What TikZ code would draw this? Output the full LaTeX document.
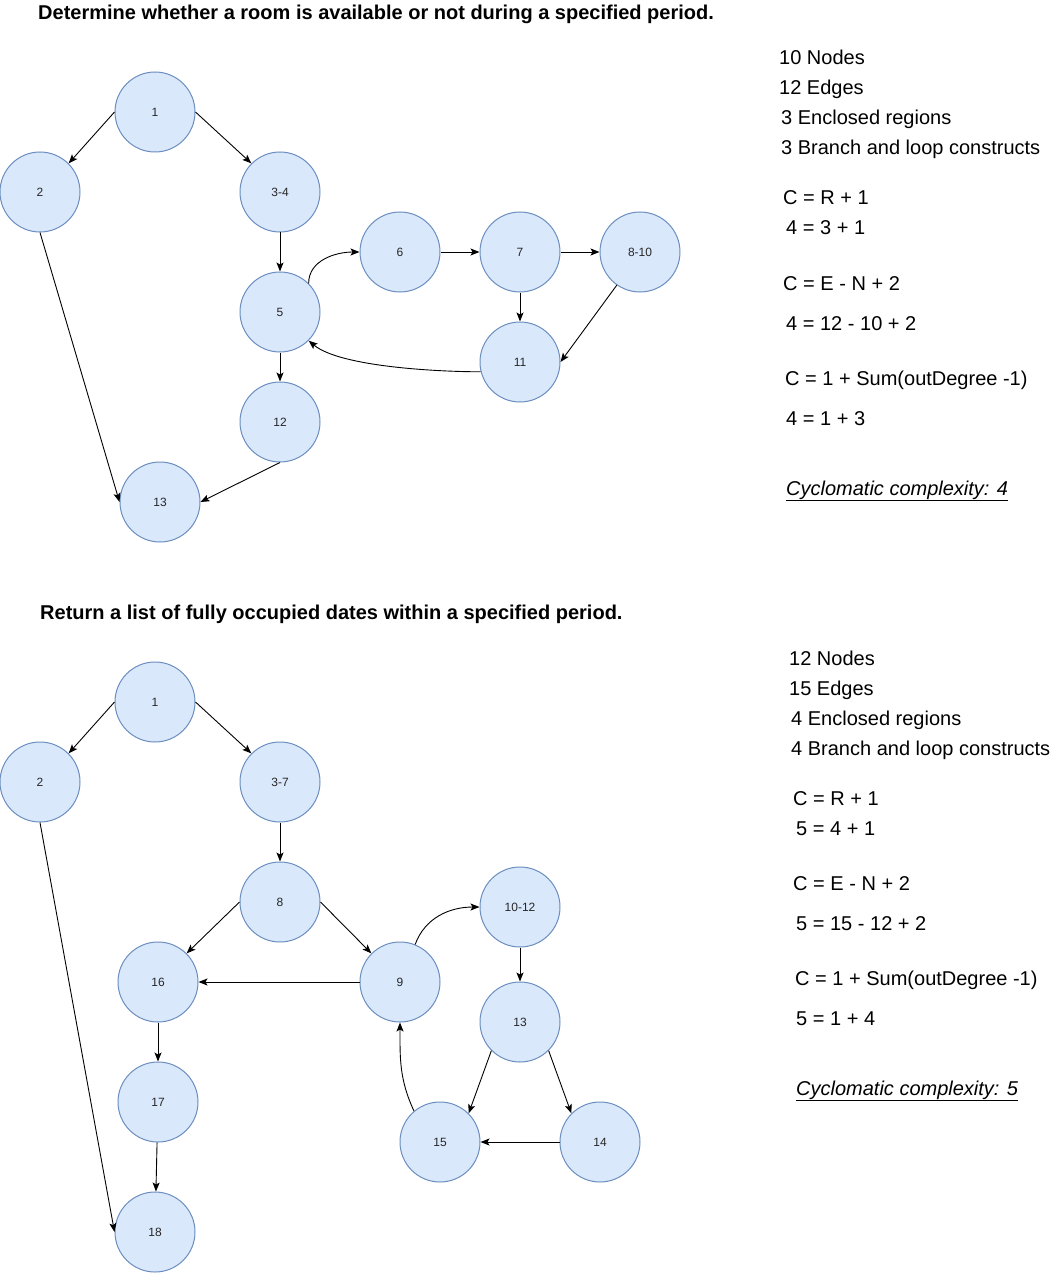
\documentclass[tikz,border=0pt]{standalone}
\usepackage{fontspec}
\setmainfont{Liberation Sans}
\usetikzlibrary{arrows.meta}
\definecolor{nodefill}{HTML}{DAE8FC}
\definecolor{nodeline}{HTML}{6C8EBF}
\begin{document}
\begin{tikzpicture}[x=1pt,y=-1pt,
  vtx/.style={circle, draw=nodeline, fill=nodefill, line width=1pt,
    minimum size=80pt, inner sep=0pt, font=\fontsize{12}{14}\selectfont, text=black!85},
  flow/.style={-{Stealth[length=9pt,width=7pt,inset=2pt]}, line width=0.9pt},
  note/.style={anchor=base west, inner sep=0pt, font=\fontsize{20}{24}\selectfont},
  heading/.style={anchor=base west, inner sep=0pt, font=\fontsize{20}{24}\selectfont\bfseries}]
\useasboundingbox (0,0) rectangle (1056,1273);

% ---------- first control-flow graph ----------
\node[heading] (h1) at (38,20) {Determine whether a room is available or not during a specified period.};

\node[vtx] (a1)   at (155,112) {1};
\node[vtx] (a2)   at (40,192)  {2};
\node[vtx] (a34)  at (280,192) {3-4};
\node[vtx] (a5)   at (280,312) {5};
\node[vtx] (a6)   at (400,252) {6};
\node[vtx] (a7)   at (520,252) {7};
\node[vtx] (a810) at (640,252) {8-10};
\node[vtx] (a11)  at (520,362) {11};
\node[vtx] (a12)  at (280,422) {12};
\node[vtx] (a13)  at (160,502) {13};

\draw[flow] (a1.west) -- (a2.north east);
\draw[flow] (a1.east) -- (a34.north west);
\draw[flow] (a2.south) -- (a13.west);
\draw[flow] (a34) -- (a5);
\draw[flow] (a5.45) to[out=90,in=180] (a6.west);
\draw[flow] (a6) -- (a7);
\draw[flow] (a7) -- (a810);
\draw[flow] (a7) -- (a11);
\draw[flow] (a810.235) -- (a11.east);
\draw[flow] (a11.194) to[out=180,in=-40,looseness=0.6] (a5.south east);
\draw[flow] (a5) -- (a12);
\draw[flow] (a12.south) -- (a13.east);

\node[note] (t1)  at (779,65)  {10 Nodes};
\node[note] (t2)  at (779,95)  {12 Edges};
\node[note] (t3)  at (781,125) {3 Enclosed regions};
\node[note] (t4)  at (781,155) {3 Branch and loop constructs};
\node[note] (t5)  at (783,205) {C = R + 1};
\node[note] (t6)  at (786,235) {4 = 3 + 1};
\node[note] (t7)  at (783,290) {C = E - N + 2};
\node[note] (t8)  at (786,330) {4 = 12 - 10 + 2};
\node[note] (t9)  at (785,385) {C = 1 + Sum(outDegree -1)};
\node[note] (t10) at (786,425) {4 = 1 + 3};
\node[note] (t11) at (786,495) {\underline{\itshape Cyclomatic complexity: 4}};

% ---------- second control-flow graph ----------
\node[heading] (h2) at (40,619) {Return a list of fully occupied dates within a specified period.};

\node[vtx] (b1)    at (155,702)  {1};
\node[vtx] (b2)    at (40,782)   {2};
\node[vtx] (b37)   at (280,782)  {3-7};
\node[vtx] (b8)    at (280,902)  {8};
\node[vtx] (b16)   at (158,982)  {16};
\node[vtx] (b9)    at (400,982)  {9};
\node[vtx] (b1012) at (520,907)  {10-12};
\node[vtx] (b13)   at (520,1022) {13};
\node[vtx] (b17)   at (158,1102) {17};
\node[vtx] (b15)   at (440,1142) {15};
\node[vtx] (b14)   at (600,1142) {14};
\node[vtx] (b18)   at (155,1232) {18};

\draw[flow] (b1.west) -- (b2.north east);
\draw[flow] (b1.east) -- (b37.north west);
\draw[flow] (b2.south) -- (b18.west);
\draw[flow] (b37) -- (b8);
\draw[flow] (b8.west) -- (b16.north east);
\draw[flow] (b8.east) -- (b9.north west);
\draw[flow] (b9) -- (b16);
\draw[flow] (b9.68) to[out=70,in=180] (b1012.west);
\draw[flow] (b1012) -- (b13);
\draw[flow] (b13.south west) -- (b15.north east);
\draw[flow] (b13.south east) -- (b14.north west);
\draw[flow] (b14) -- (b15);
\draw[flow] (b15.130) to[out=115,in=-90] (b9.south);
\draw[flow] (b16) -- (b17);
\draw[flow] (b17) -- (b18);

\node[note] (u1)  at (789,665)  {12 Nodes};
\node[note] (u2)  at (789,695)  {15 Edges};
\node[note] (u3)  at (791,725)  {4 Enclosed regions};
\node[note] (u4)  at (791,755)  {4 Branch and loop constructs};
\node[note] (u5)  at (793,805)  {C = R + 1};
\node[note] (u6)  at (796,835)  {5 = 4 + 1};
\node[note] (u7)  at (793,890)  {C = E - N + 2};
\node[note] (u8)  at (796,930)  {5 = 15 - 12 + 2};
\node[note] (u9)  at (795,985)  {C = 1 + Sum(outDegree -1)};
\node[note] (u10) at (796,1025) {5 = 1 + 4};
\node[note] (u11) at (796,1095) {\underline{\itshape Cyclomatic complexity: 5}};
\end{tikzpicture}
\end{document}
